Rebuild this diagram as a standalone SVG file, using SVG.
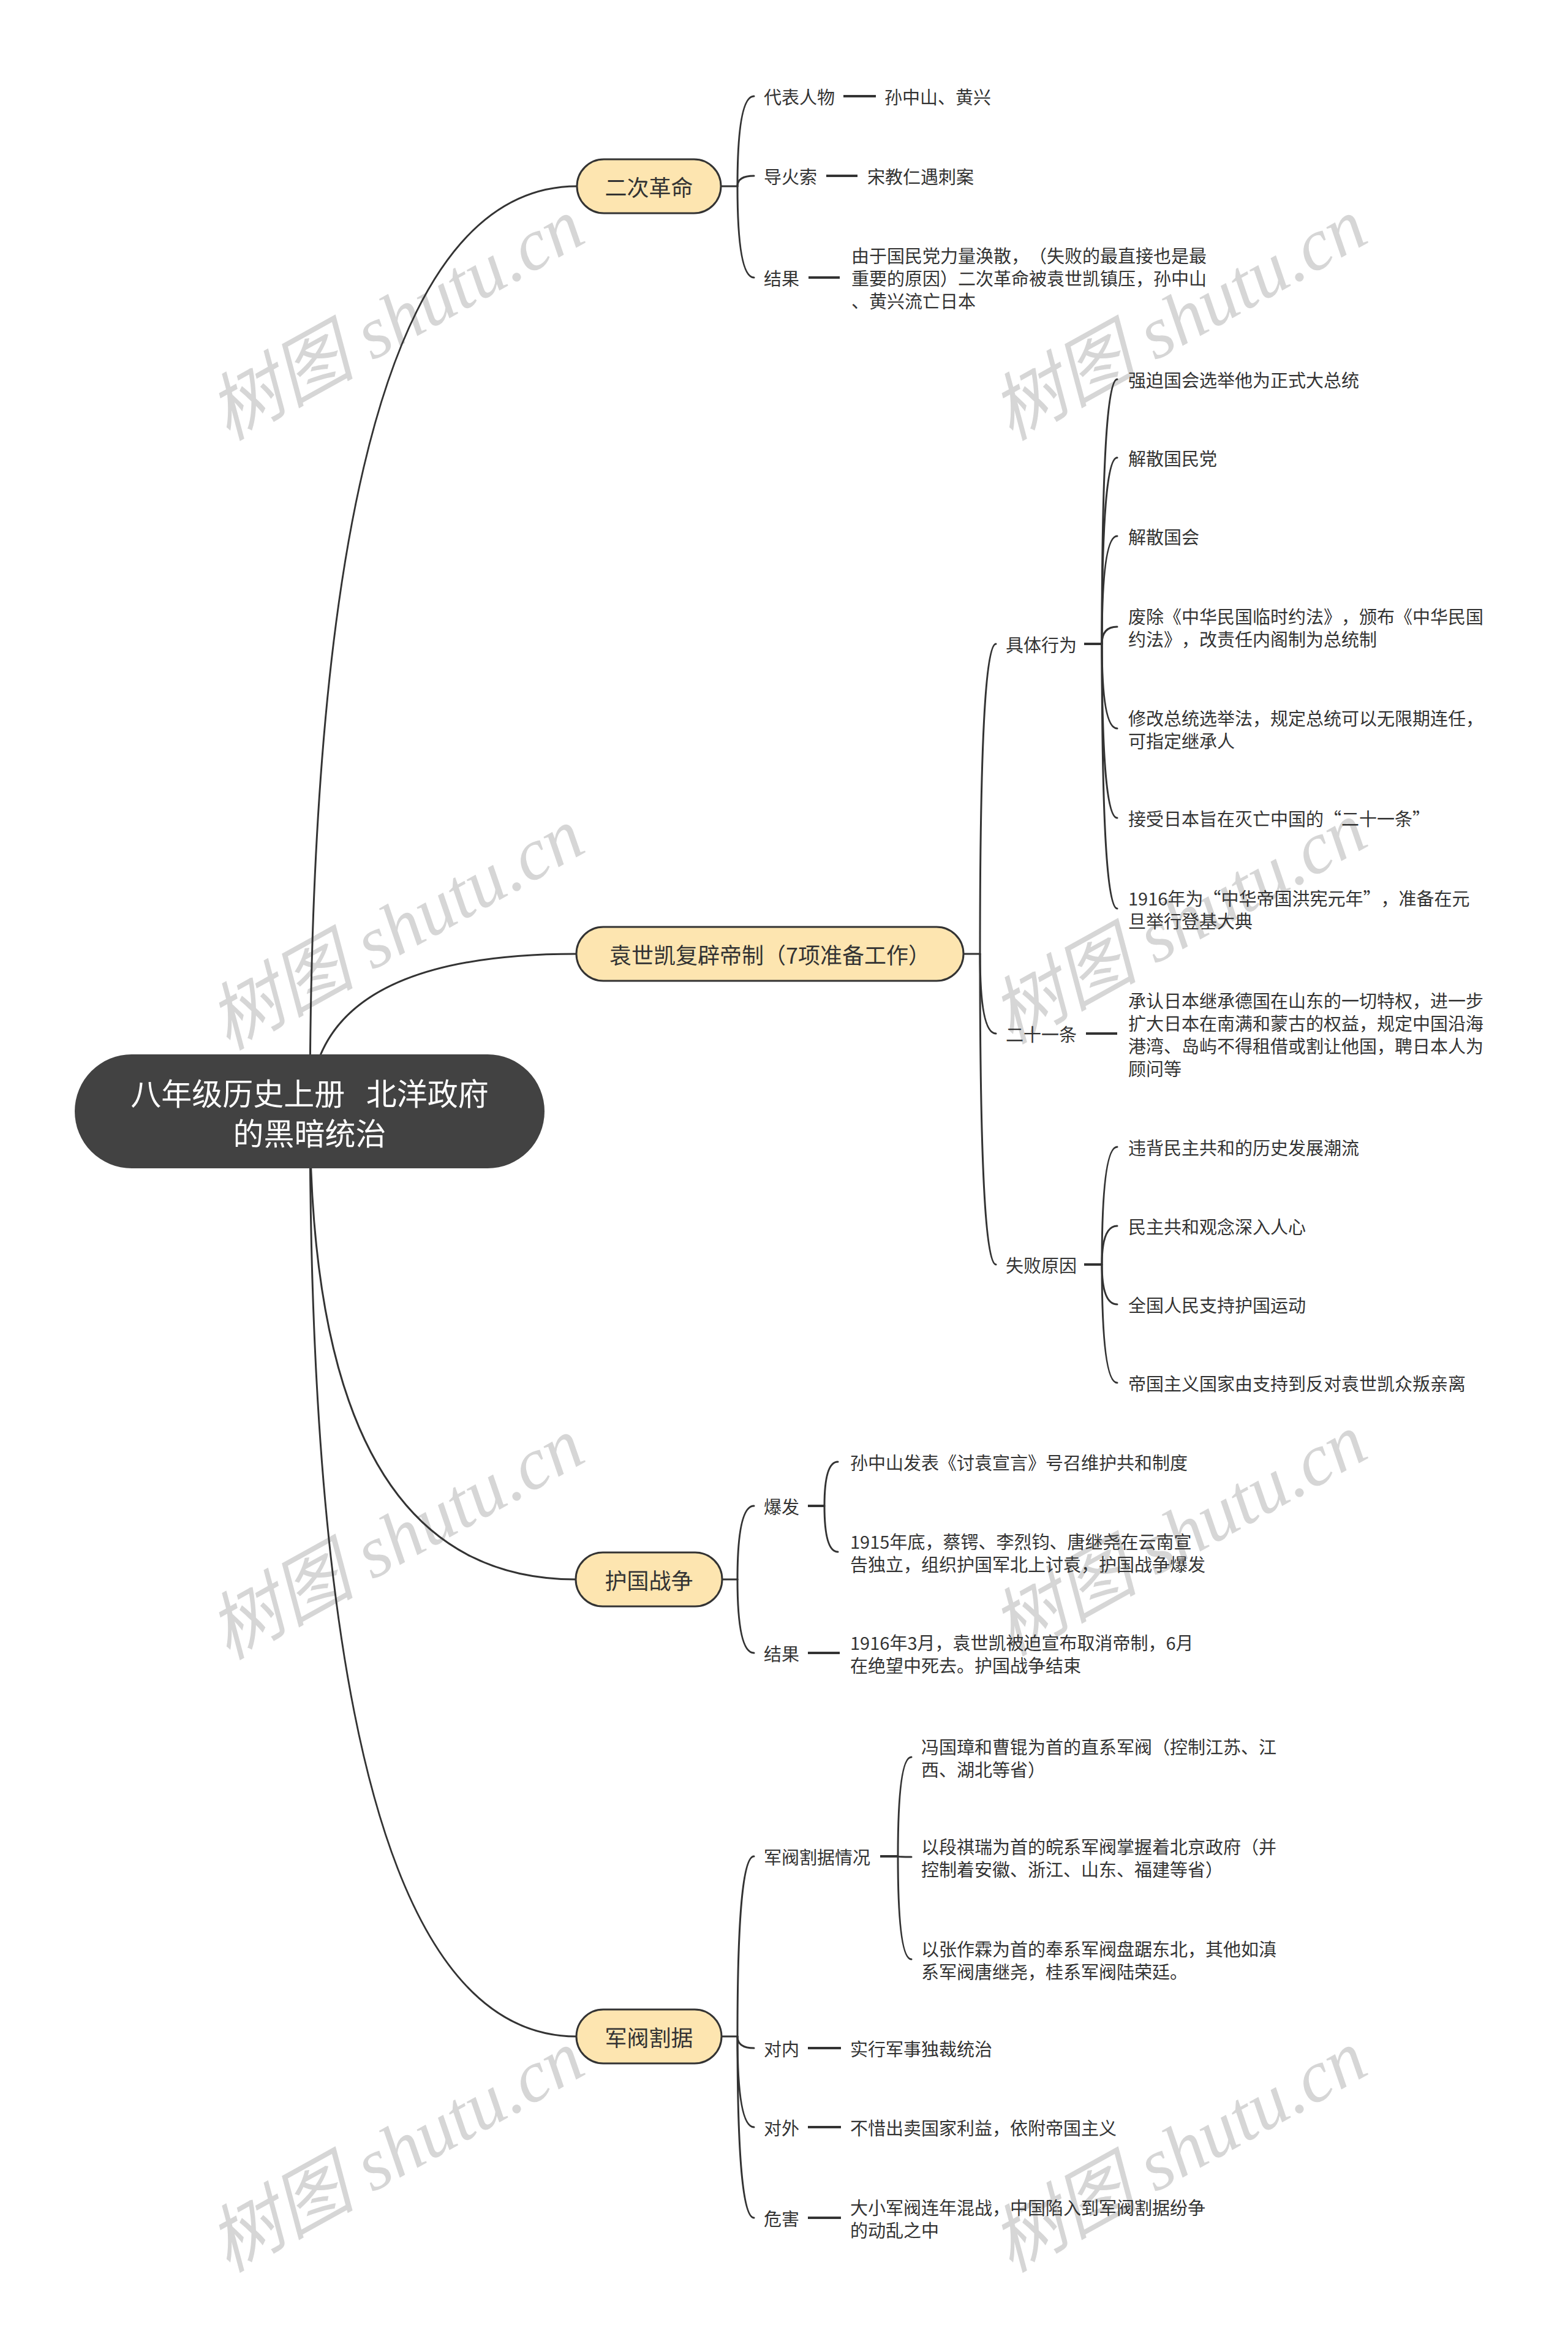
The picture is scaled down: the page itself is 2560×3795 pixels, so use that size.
<svg xmlns="http://www.w3.org/2000/svg" width="2560" height="3795" viewBox="0 0 2560 3795">
<style>
.wm { font-family: "Liberation Serif", "Noto Sans CJK SC", serif; font-style: italic; font-size: 120px; fill: #d6d6d6; text-anchor: middle; }
.t { font-family: "Noto Sans CJK SC", "Noto Sans", sans-serif; font-size: 29px; fill: #333333; dominant-baseline: central; font-feature-settings: "chws" 0, "halt" 0, "palt" 0; font-kerning: none; text-spacing-trim: space-all; }
.l1 { font-size: 36px; text-anchor: middle; }
.rt { font-size: 50px; fill: #ffffff; text-anchor: middle; }
.pill { fill: #fde5b0; stroke: #333333; stroke-width: 3; }
.root { fill: #424242; }
.c path { fill: none; stroke: #333333; stroke-width: 3; stroke-linecap: round; }
.c path.s { stroke-width: 4; stroke-linecap: butt; }
</style>
<rect width="2560" height="3795" fill="#ffffff"/>
<g id="watermarks">
<text class="wm" x="646" y="562" transform="rotate(-29 646 520)">树图 shutu.cn</text>
<text class="wm" x="1924" y="562" transform="rotate(-29 1924 520)">树图 shutu.cn</text>
<text class="wm" x="646" y="1557" transform="rotate(-29 646 1515)">树图 shutu.cn</text>
<text class="wm" x="1924" y="1547" transform="rotate(-29 1924 1505)">树图 shutu.cn</text>
<text class="wm" x="646" y="2552" transform="rotate(-29 646 2510)">树图 shutu.cn</text>
<text class="wm" x="1924" y="2546" transform="rotate(-29 1924 2504)">树图 shutu.cn</text>
<text class="wm" x="646" y="3552" transform="rotate(-29 646 3510)">树图 shutu.cn</text>
<text class="wm" x="1924" y="3552" transform="rotate(-29 1924 3510)">树图 shutu.cn</text>
</g>
<g id="connectors" class="c">
<path d="M 506 1814 Q 506 304 942 304"/>
<path d="M 506 1814 Q 506 1557 941 1557"/>
<path d="M 506 1814 Q 506 2578 940 2578"/>
<path d="M 506 1814 Q 506 3324 941 3324"/>
<path d="M 1177 304 H 1204"/>
<path d="M 1204 304 Q 1204 157 1231 157"/>
<path d="M 1204 304 Q 1204 287 1231 287"/>
<path d="M 1204 304 Q 1204 453 1231 453"/>
<path class="s" d="M 1377 157 H 1430"/>
<path class="s" d="M 1349 287 H 1400"/>
<path class="s" d="M 1320 453 H 1371"/>
<path d="M 1573 1557 H 1600"/>
<path d="M 1600 1557 Q 1600 1051 1626 1051"/>
<path d="M 1600 1557 Q 1600 1687 1626 1687"/>
<path d="M 1600 1557 Q 1600 2064 1626 2064"/>
<path class="s" d="M 1770 1051 H 1799"/>
<path d="M 1799 1051 Q 1799 619 1824 619"/>
<path d="M 1799 1051 Q 1799 747 1824 747"/>
<path d="M 1799 1051 Q 1799 875 1824 875"/>
<path d="M 1799 1051 Q 1799 1023 1824 1023"/>
<path d="M 1799 1051 Q 1799 1189 1824 1189"/>
<path d="M 1799 1051 Q 1799 1335 1824 1335"/>
<path d="M 1799 1051 Q 1799 1483 1824 1483"/>
<path class="s" d="M 1773 1687 H 1824"/>
<path class="s" d="M 1770 2064 H 1799"/>
<path d="M 1799 2064 Q 1799 1872 1824 1872"/>
<path d="M 1799 2064 Q 1799 2001 1824 2001"/>
<path d="M 1799 2064 Q 1799 2129 1824 2129"/>
<path d="M 1799 2064 Q 1799 2257 1824 2257"/>
<path d="M 1179 2578 H 1204"/>
<path d="M 1204 2578 Q 1204 2458 1231 2458"/>
<path d="M 1204 2578 Q 1204 2698 1231 2698"/>
<path class="s" d="M 1319 2458 H 1346"/>
<path d="M 1346 2458 Q 1346 2386 1368 2386"/>
<path d="M 1346 2458 Q 1346 2533 1368 2533"/>
<path class="s" d="M 1319 2698 H 1371"/>
<path d="M 1178 3324 H 1204"/>
<path d="M 1204 3324 Q 1204 3030 1231 3030"/>
<path d="M 1204 3324 Q 1204 3343 1231 3343"/>
<path d="M 1204 3324 Q 1204 3472 1231 3472"/>
<path d="M 1204 3324 Q 1204 3620 1231 3620"/>
<path class="s" d="M 1437 3030 H 1466"/>
<path d="M 1466 3030 Q 1466 2868 1488 2868"/>
<path d="M 1466 3030 Q 1466 3031 1488 3031"/>
<path d="M 1466 3030 Q 1466 3198 1488 3198"/>
<path class="s" d="M 1319 3343 H 1373"/>
<path class="s" d="M 1319 3472 H 1373"/>
<path class="s" d="M 1319 3620 H 1373"/>
</g>
<g id="root">
<rect class="root" x="122" y="1721" width="767" height="186" rx="93"/>
<text class="t rt" x="505.5" y="1782" xml:space="preserve" word-spacing="6">八年级历史上册  北洋政府</text>
<text class="t rt" x="505.5" y="1847">的黑暗统治</text>
</g>
<g id="n1">
<rect class="pill" x="942" y="260" width="235" height="88" rx="44"/>
<text class="t l1" x="1059.5" y="304">二次革命</text>
</g>
<g id="n1-1"><text class="t" x="1247" y="157">代表人物</text></g>
<g id="n1-1-1"><text class="t" x="1444" y="157">孙中山、黄兴</text></g>
<g id="n1-2"><text class="t" x="1247" y="287">导火索</text></g>
<g id="n1-2-1"><text class="t" x="1416" y="287">宋教仁遇刺案</text></g>
<g id="n1-3"><text class="t" x="1247" y="453">结果</text></g>
<g id="n1-3-1"><text class="t" x="1390"><tspan x="1390" y="416">由于国民党力量涣散，（失败的最直接也是最</tspan><tspan x="1390" y="453">重要的原因）二次革命被袁世凯镇压，孙中山</tspan><tspan x="1390" y="490">、黄兴流亡日本</tspan></text></g>
<g id="n2">
<rect class="pill" x="941" y="1513" width="632" height="88" rx="44"/>
<text class="t l1" x="1257" y="1557">袁世凯复辟帝制（7项准备工作）</text>
</g>
<g id="n2-1"><text class="t" x="1642" y="1051">具体行为</text></g>
<g id="n2-1-1"><text class="t" x="1842" y="619">强迫国会选举他为正式大总统</text></g>
<g id="n2-1-2"><text class="t" x="1842" y="747">解散国民党</text></g>
<g id="n2-1-3"><text class="t" x="1842" y="875">解散国会</text></g>
<g id="n2-1-4"><text class="t" x="1842"><tspan x="1842" y="1004.5">废除《中华民国临时约法》，颁布《中华民国</tspan><tspan x="1842" y="1041.5">约法》，改责任内阁制为总统制</tspan></text></g>
<g id="n2-1-5"><text class="t" x="1842"><tspan x="1842" y="1170.5">修改总统选举法，规定总统可以无限期连任，</tspan><tspan x="1842" y="1207.5">可指定继承人</tspan></text></g>
<g id="n2-1-6"><text class="t" x="1842" y="1335">接受日本旨在灭亡中国的“二十一条”</text></g>
<g id="n2-1-7"><text class="t" x="1842"><tspan x="1842" y="1464.5">1916年为“中华帝国洪宪元年”，准备在元</tspan><tspan x="1842" y="1501.5">旦举行登基大典</tspan></text></g>
<g id="n2-2"><text class="t" x="1642" y="1687">二十一条</text></g>
<g id="n2-2-1"><text class="t" x="1842"><tspan x="1842" y="1631.5">承认日本继承德国在山东的一切特权，进一步</tspan><tspan x="1842" y="1668.5">扩大日本在南满和蒙古的权益，规定中国沿海</tspan><tspan x="1842" y="1705.5">港湾、岛屿不得租借或割让他国，聘日本人为</tspan><tspan x="1842" y="1742.5">顾问等</tspan></text></g>
<g id="n2-3"><text class="t" x="1642" y="2064">失败原因</text></g>
<g id="n2-3-1"><text class="t" x="1842" y="1872">违背民主共和的历史发展潮流</text></g>
<g id="n2-3-2"><text class="t" x="1842" y="2001">民主共和观念深入人心</text></g>
<g id="n2-3-3"><text class="t" x="1842" y="2129">全国人民支持护国运动</text></g>
<g id="n2-3-4"><text class="t" x="1842" y="2257">帝国主义国家由支持到反对袁世凯众叛亲离</text></g>
<g id="n3">
<rect class="pill" x="940" y="2534" width="239" height="88" rx="44"/>
<text class="t l1" x="1059.5" y="2578">护国战争</text>
</g>
<g id="n3-1"><text class="t" x="1247" y="2458">爆发</text></g>
<g id="n3-1-1"><text class="t" x="1388" y="2386">孙中山发表《讨袁宣言》号召维护共和制度</text></g>
<g id="n3-1-2"><text class="t" x="1388"><tspan x="1388" y="2514.5">1915年底，蔡锷、李烈钧、唐继尧在云南宣</tspan><tspan x="1388" y="2551.5">告独立，组织护国军北上讨袁，护国战争爆发</tspan></text></g>
<g id="n3-2"><text class="t" x="1247" y="2698">结果</text></g>
<g id="n3-2-1"><text class="t" x="1388"><tspan x="1388" y="2679.5">1916年3月，袁世凯被迫宣布取消帝制，6月</tspan><tspan x="1388" y="2716.5">在绝望中死去。护国战争结束</tspan></text></g>
<g id="n4">
<rect class="pill" x="941" y="3280" width="237" height="88" rx="44"/>
<text class="t l1" x="1059.5" y="3324">军阀割据</text>
</g>
<g id="n4-1"><text class="t" x="1247" y="3030">军阀割据情况</text></g>
<g id="n4-1-1"><text class="t" x="1504"><tspan x="1504" y="2849.5">冯国璋和曹锟为首的直系军阀（控制江苏、江</tspan><tspan x="1504" y="2886.5">西、湖北等省）</tspan></text></g>
<g id="n4-1-2"><text class="t" x="1504"><tspan x="1504" y="3012.5">以段祺瑞为首的皖系军阀掌握着北京政府（并</tspan><tspan x="1504" y="3049.5">控制着安徽、浙江、山东、福建等省）</tspan></text></g>
<g id="n4-1-3"><text class="t" x="1504"><tspan x="1504" y="3179.5">以张作霖为首的奉系军阀盘踞东北，其他如滇</tspan><tspan x="1504" y="3216.5">系军阀唐继尧，桂系军阀陆荣廷。</tspan></text></g>
<g id="n4-2"><text class="t" x="1247" y="3343">对内</text></g>
<g id="n4-2-1"><text class="t" x="1388" y="3343">实行军事独裁统治</text></g>
<g id="n4-3"><text class="t" x="1247" y="3472">对外</text></g>
<g id="n4-3-1"><text class="t" x="1388" y="3472">不惜出卖国家利益，依附帝国主义</text></g>
<g id="n4-4"><text class="t" x="1247" y="3620">危害</text></g>
<g id="n4-4-1"><text class="t" x="1388"><tspan x="1388" y="3601.5">大小军阀连年混战，中国陷入到军阀割据纷争</tspan><tspan x="1388" y="3638.5">的动乱之中</tspan></text></g>
</svg>
